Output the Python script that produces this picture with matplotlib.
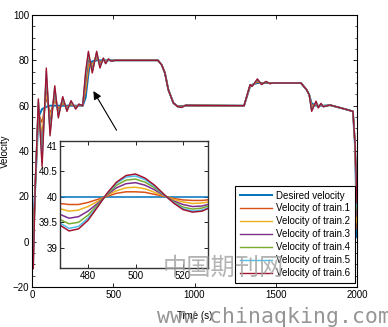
import matplotlib
matplotlib.use('Agg')
import matplotlib.pyplot as plt

plt.rcParams['font.family'] = ['Liberation Sans', 'DejaVu Sans']
plt.rcParams['font.size'] = 7

# main plot data (time in s, velocity)
time_s = [0, 8, 20, 39, 62, 88, 111, 140, 162, 189, 215, 240, 269, 289, 312, 330, 347, 357, 371, 398,
          418, 439, 453, 470, 490, 510, 775, 798, 818, 839, 870, 895, 921, 945, 1305, 1342, 1355, 1387, 1413, 1440,
          1465, 1480, 1655, 1690, 1706, 1721, 1748, 1762, 1778, 1793, 1834, 1926, 1975, 1988, 2000]
desired = [0, 8, 24, 55, 58.5, 59.5, 60, 60, 60, 60, 60, 60, 60, 60, 60, 63.5, 74, 78.5, 79.6, 80,
           80, 80, 80, 80, 80, 80, 80, 78, 74.4, 67, 61.2, 59.8, 59.8, 60, 60, 68.5, 69.3, 70, 70, 70,
           70, 70, 70, 67, 64.8, 61, 60, 60, 60, 60, 60.2, 58.5, 57.5, 42, 2]
train1 = [0, 3.4, 24.2, 56.8, 52.6, 63.4, 56.9, 62.0, 58.8, 60.9, 59.4, 60.5, 59.7, 60.2, 60, 66.1, 76.3, 78.8, 78.4, 80.9,
          79.2, 80.2, 79.7, 80.1, 79.9, 80, 80, 78, 74.4, 67, 61.2, 59.8, 59.7, 60.0, 60, 68.7, 69.1, 70.4, 69.8, 70.2,
          69.9, 70, 70, 67, 64.8, 60.2, 60.5, 59.8, 60.2, 59.9, 60.2, 58.5, 57.5, 42.3, 5.5]
train2 = [0, -0.4, 24.4, 58.4, 47.8, 66.7, 54.4, 63.7, 57.7, 61.7, 59.0, 60.9, 59.4, 60.3, 60, 68.3, 78.2, 79.1, 77.4, 81.7,
          78.6, 80.4, 79.4, 80.3, 79.8, 80, 80, 78, 74.4, 67, 61.2, 59.7, 59.5, 60.1, 60, 68.8, 69.0, 70.8, 69.7, 70.3,
          69.9, 70, 70, 67, 64.8, 59.5, 60.8, 59.6, 60.4, 59.8, 60.2, 58.5, 57.5, 42.6, 8.3]
train3 = [0, -4.4, 24.6, 60.0, 42.7, 70.1, 51.8, 65.5, 56.7, 62.5, 58.5, 61.4, 59.1, 60.4, 60, 70.6, 80.2, 79.4, 76.4, 82.5,
          77.9, 80.6, 79.1, 80.4, 79.8, 80, 80, 78, 74.4, 67, 61.2, 59.7, 59.4, 60.1, 60, 69.0, 68.8, 71.1, 69.6, 70.4,
          69.8, 70, 70, 67, 64.8, 58.8, 61.2, 59.4, 60.6, 59.7, 60.3, 58.5, 57.5, 42.9, 11.3]
train4 = [0, -7.8, 24.8, 61.3, 38.4, 73.0, 49.5, 67.0, 55.7, 63.2, 58.0, 61.7, 58.8, 60.6, 60, 72.6, 81.9, 79.7, 75.5, 83.2,
          77.3, 80.8, 78.8, 80.5, 79.7, 80, 80, 78, 74.4, 67, 61.2, 59.6, 59.3, 60.2, 60, 69.1, 68.7, 71.4, 69.4, 70.6,
          69.8, 70, 70, 67, 64.8, 58.2, 61.6, 59.2, 60.8, 59.6, 60.3, 58.5, 57.5, 43.2, 13.9]
train5 = [0, -10.4, 24.9, 62.4, 35.0, 75.2, 47.8, 68.1, 55.0, 63.7, 57.7, 62.0, 58.6, 60.6, 60, 74.1, 83.2, 79.9, 74.8, 83.7,
          76.9, 80.9, 78.6, 80.6, 79.6, 80, 80, 78, 74.4, 67, 61.2, 59.6, 59.2, 60.2, 60, 69.2, 68.6, 71.7, 69.4, 70.6,
          69.7, 70, 70, 67, 64.8, 57.8, 61.8, 59.1, 60.9, 59.5, 60.3, 58.5, 57.5, 43.4, 15.8]
train6 = [0, -12, 25, 63, 33, 76.6, 46.7, 68.8, 54.6, 64, 57.5, 62.2, 58.5, 60.7, 60, 75, 84, 80, 74.4, 84,
          76.6, 81, 78.5, 80.6, 79.6, 80, 80, 78, 74.4, 67, 61.2, 59.6, 59.2, 60.2, 60, 69.3, 68.5, 71.8, 69.3, 70.7,
          69.7, 70, 70, 67, 64.8, 57.5, 62, 59, 61, 59.5, 60.3, 58.5, 57.5, 43.5, 17]

# inset data
ins_t = [468, 472, 476, 480, 484, 488, 492, 496, 500, 504, 508, 512, 516, 520, 524, 528, 532]
ins_desired = [40.0] * len(ins_t)
ins_train1 = [39.87, 39.85, 39.85, 39.89, 39.95, 40.01, 40.07, 40.10, 40.10, 40.09, 40.05, 40.01, 39.97, 39.94, 39.93, 39.93, 39.95]
ins_train2 = [39.77, 39.72, 39.74, 39.81, 39.91, 40.03, 40.12, 40.18, 40.19, 40.16, 40.09, 40.02, 39.95, 39.90, 39.87, 39.88, 39.91]
ins_train3 = [39.66, 39.58, 39.61, 39.72, 39.87, 40.04, 40.18, 40.26, 40.28, 40.23, 40.14, 40.03, 39.92, 39.85, 39.81, 39.82, 39.87]
ins_train4 = [39.56, 39.47, 39.50, 39.64, 39.84, 40.05, 40.23, 40.33, 40.35, 40.29, 40.18, 40.04, 39.90, 39.80, 39.76, 39.78, 39.84]
ins_train5 = [39.49, 39.38, 39.42, 39.58, 39.81, 40.06, 40.27, 40.39, 40.41, 40.34, 40.21, 40.04, 39.89, 39.77, 39.72, 39.74, 39.81]
ins_train6 = [39.45, 39.33, 39.37, 39.54, 39.80, 40.07, 40.29, 40.42, 40.45, 40.37, 40.23, 40.05, 39.88, 39.75, 39.70, 39.72, 39.80]

labels = ['Desired velocity'] + ['Velocity of train.%d' % i for i in range(1, 7)]
colors = ['#0072BD', '#D95319', '#EDB120', '#7E2F8E', '#77AC30', '#4DBEEE', '#A2142F']

fig = plt.figure(figsize=(3.88, 3.27), dpi=100)
ax = fig.add_axes([0.0825, 0.1223, 0.8376, 0.8318])

main_series = [desired, train1, train2, train3, train4, train5, train6]
for i, ys in enumerate(main_series):
    ax.plot(time_s, ys, color=colors[i], lw=1.4 if i == 0 else 1.0, label=labels[i])

ax.set_xlim(0, 2000)
ax.set_ylim(-20, 100)
ax.set_xticks([0, 500, 1000, 1500, 2000])
ax.set_yticks([-20, 0, 20, 40, 60, 80, 100])
ax.set_yticks(range(-20, 101, 5), minor=True)
ax.tick_params(direction='in', top=True, right=True, length=3, width=0.6, pad=2)
ax.tick_params(which='minor', direction='in', right=True, length=1.8, width=0.5)
for s in ax.spines.values():
    s.set_linewidth(0.8)
ax.set_xlabel('Time (s)', labelpad=8)
ax.set_ylabel('Velocity', labelpad=2)

leg = ax.legend(loc='lower right', bbox_to_anchor=(0.994, 0.015), borderaxespad=0,
                fancybox=False, framealpha=1, edgecolor='black', fontsize=7,
                labelspacing=0.3, handlelength=3.25, handletextpad=0.45, borderpad=0.5)
leg.get_frame().set_linewidth(0.8)

ax.annotate('', xy=(369, 67.5), xytext=(529, 48.1),
            arrowprops=dict(arrowstyle='-|>', color='black', lw=0.8, mutation_scale=12))

# inset
ins = fig.add_axes([0.1546, 0.1804, 0.3814, 0.3884])
ins_series = [ins_desired, ins_train1, ins_train2, ins_train3, ins_train4, ins_train5, ins_train6]
for i, ys in enumerate(ins_series):
    ins.plot(ins_t, ys, color=colors[i], lw=1.1)
ins.set_xlim(468.2, 530.5)
ins.set_ylim(38.6, 41.1)
ins.set_xticks([480, 500, 520])
ins.set_yticks([39, 39.5, 40, 40.5, 41])
ins.set_yticklabels(['39', '39.5', '40', '40.5', '41'])
ins.tick_params(direction='in', top=True, right=True, length=3, width=0.6, pad=2)
for s in ins.spines.values():
    s.set_linewidth(1.0)
    s.set_color('#333333')

# watermark
fig.text(163 / 388, 1 - 268 / 327, '中国期刊网', family=['Noto Sans CJK SC'], fontsize=17.5,
         color='#a0a0a0', alpha=0.8, va='center', ha='left')
fig.text(157 / 388, 1 - 323 / 327, 'www.chinaqking.com', family=['DejaVu Sans Mono'], fontsize=15.5,
         color='#8a8a8a', alpha=0.9, va='baseline', ha='left')

fig.savefig('out.png', dpi=100)
